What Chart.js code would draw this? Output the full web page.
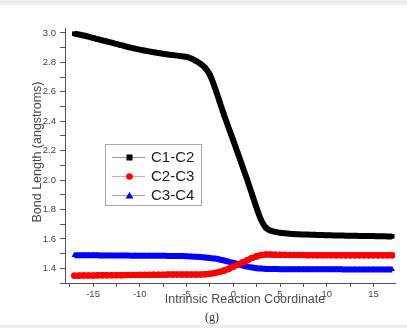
<!DOCTYPE html>
<html>
<head>
<meta charset="utf-8">
<script src="https://cdn.jsdelivr.net/npm/chart.js@4.4.1/dist/chart.umd.min.js"></script>
<style>
  html, body { margin: 0; padding: 0; background: #fff; }
  #wrap { width: 407px; height: 328px; position: relative; }
</style>
</head>
<body>
<div id="wrap"><canvas id="bondChart" width="407" height="328"></canvas></div>
<script>
// IRC coordinate (x) and bond lengths in angstroms
const irc = [
  -17, -16.5, -16, -15.5, -15, -14.5, -14, -13.5, -13, -12.5, -12, -11.5,
  -11, -10.5, -10, -9.5, -9, -8.5, -8, -7.5, -7, -6.5, -6, -5.5,
  -5, -4.5, -4, -3.5, -3, -2.5, -2, -1.5, -1, -0.5, 0, 0.5,
  1, 1.5, 2, 2.5, 3, 3.5, 4, 4.5, 5, 5.5, 6, 6.5,
  7, 7.5, 8, 8.5, 9, 9.5, 10, 10.5, 11, 11.5, 12, 12.5,
  13, 13.5, 14, 14.5, 15, 15.5, 16, 16.5, 17
];

const c1c2 = [
  2.995, 2.990, 2.983, 2.975, 2.967, 2.958, 2.950, 2.942, 2.934, 2.926, 2.917, 2.909,
  2.901, 2.894, 2.887, 2.881, 2.875, 2.869, 2.864, 2.859, 2.854, 2.850, 2.846, 2.842,
  2.838, 2.826, 2.810, 2.790, 2.762, 2.715, 2.635, 2.540, 2.445, 2.355, 2.270, 2.180,
  2.090, 2.000, 1.905, 1.810, 1.725, 1.675, 1.656, 1.648, 1.642, 1.638, 1.635, 1.633,
  1.631, 1.630, 1.629, 1.628, 1.627, 1.626, 1.625, 1.624, 1.623, 1.623, 1.622, 1.621,
  1.621, 1.620, 1.620, 1.619, 1.619, 1.618, 1.618, 1.617, 1.617
];

const c2c3 = [
  1.350, 1.350, 1.351, 1.351, 1.351, 1.352, 1.352, 1.352, 1.353, 1.353, 1.353, 1.354,
  1.354, 1.354, 1.355, 1.355, 1.355, 1.356, 1.356, 1.356, 1.357, 1.357, 1.357, 1.357,
  1.357, 1.357, 1.357, 1.358, 1.360, 1.363, 1.368, 1.375, 1.384, 1.396, 1.410, 1.425,
  1.440, 1.455, 1.470, 1.481, 1.490, 1.494, 1.493, 1.492, 1.491, 1.491, 1.490, 1.490,
  1.490, 1.490, 1.489, 1.489, 1.489, 1.489, 1.489, 1.489, 1.488, 1.488, 1.488, 1.488,
  1.488, 1.488, 1.488, 1.488, 1.488, 1.488, 1.488, 1.488, 1.488
];

const c3c4 = [
  1.488, 1.488, 1.488, 1.488, 1.488, 1.488, 1.487, 1.487, 1.487, 1.487, 1.487, 1.487,
  1.486, 1.486, 1.486, 1.486, 1.486, 1.485, 1.485, 1.485, 1.484, 1.484, 1.483, 1.483,
  1.482, 1.480, 1.478, 1.476, 1.474, 1.470, 1.466, 1.460, 1.453, 1.445, 1.437, 1.428,
  1.419, 1.411, 1.405, 1.401, 1.398, 1.396, 1.395, 1.395, 1.394, 1.394, 1.394, 1.394,
  1.394, 1.393, 1.393, 1.393, 1.393, 1.393, 1.393, 1.393, 1.393, 1.393, 1.392, 1.392,
  1.392, 1.392, 1.392, 1.392, 1.392, 1.392, 1.392, 1.392, 1.392
];

const seriesNames = ["C1-C2", "C2-C3", "C3-C4"];
const xTicks = [-17.5, -15, -12.5, -10, -7.5, -5, -2.5, 0, 2.5, 5, 7.5, 10, 12.5, 15];
const yTicks = [1.3, 1.4, 1.5, 1.6, 1.7, 1.8, 1.9, 2.0, 2.1, 2.2, 2.3, 2.4, 2.5, 2.6, 2.7, 2.8, 2.9, 3.0];

const FONT = "'Liberation Sans', Arial, sans-serif";

function pts(ys) {
  return irc.map((x, i) => ({ x: x, y: ys[i] }));
}

function series(label, ys, color, style) {
  return {
    label: label,
    data: pts(ys),
    borderColor: color,
    backgroundColor: color,
    borderWidth: 6,
    pointStyle: style,
    pointRadius: 3.3,
    pointBorderWidth: 0,
    pointBackgroundColor: color,
    cubicInterpolationMode: "monotone"
  };
}

// page strips, axis titles, caption and the boxed legend
const decorations = {
  id: "decorations",
  beforeDraw(chart) {
    const ctx = chart.ctx;
    ctx.save();
    ctx.fillStyle = "#fff";
    ctx.fillRect(0, 0, 407, 328);
    ctx.fillStyle = "#eeeeee";
    ctx.fillRect(0, 0, 407, 5);
    ctx.fillRect(0, 325, 407, 3);
    ctx.restore();
  },
  afterDraw(chart) {
    const ctx = chart.ctx;
    ctx.save();

    ctx.fillStyle = "#4a4a4a";
    ctx.font = "12.5px " + FONT;
    ctx.textAlign = "center";
    ctx.textBaseline = "middle";
    ctx.fillText("Intrinsic Reaction Coordinate", 245, 300);

    ctx.save();
    ctx.translate(38, 152);
    ctx.rotate(-Math.PI / 2);
    ctx.fillText("Bond Length (angstroms)", 0, 0);
    ctx.restore();

    ctx.fillStyle = "#333";
    ctx.font = "12px 'Liberation Serif', 'Times New Roman', serif";
    ctx.fillText("(g)", 212, 318);

    // legend
    ctx.strokeStyle = "#a8a8a8";
    ctx.lineWidth = 1;
    ctx.strokeRect(105.5, 144.5, 96, 61);
    const lineCols = ["#9a9a9a", "#ff9a9a", "#9a9aff"];
    const rows = [157, 176, 195];
    chart.data.datasets.forEach((ds, i) => {
      const y = rows[i];
      ctx.strokeStyle = lineCols[i];
      ctx.beginPath();
      ctx.moveTo(112, y + 0.5);
      ctx.lineTo(145, y + 0.5);
      ctx.stroke();
      ctx.fillStyle = ds.borderColor;
      if (ds.pointStyle === "rect") {
        ctx.fillRect(126.5, y - 2.5, 6, 6);
      } else if (ds.pointStyle === "circle") {
        ctx.beginPath();
        ctx.arc(129.5, y + 0.5, 3.3, 0, Math.PI * 2);
        ctx.fill();
      } else {
        ctx.beginPath();
        ctx.moveTo(129.5, y - 3);
        ctx.lineTo(133.5, y + 3.5);
        ctx.lineTo(125.5, y + 3.5);
        ctx.closePath();
        ctx.fill();
      }
      ctx.fillStyle = "#222";
      ctx.font = "15px " + FONT;
      ctx.textAlign = "left";
      ctx.fillText(ds.label, 151, y + 1);
    });

    ctx.restore();
  }
};

new Chart(document.getElementById("bondChart"), {
  type: "line",
  data: {
    datasets: [
      series(seriesNames[0], c1c2, "#000000", "rect"),
      series(seriesNames[1], c2c3, "#ff0000", "circle"),
      series(seriesNames[2], c3c4, "#0000ff", "triangle")
    ]
  },
  options: {
    responsive: false,
    animation: false,
    layout: { padding: { top: 28, right: 12, left: 0, bottom: 0 } },
    plugins: {
      legend: { display: false },
      tooltip: { enabled: false }
    },
    scales: {
      x: {
        type: "linear",
        min: -18,
        max: 17.3,
        afterBuildTicks: axis => { axis.ticks = xTicks.map(v => ({ value: v })); },
        afterFit: axis => { axis.height = 45; },
        border: { display: true, color: "#555", width: 1 },
        grid: { drawOnChartArea: false, drawTicks: true, tickLength: 4, color: "#555" },
        ticks: {
          autoSkip: false,
          maxRotation: 0,
          padding: 2,
          color: "#444",
          font: { family: FONT, size: 9.5 },
          callback: v => (v % 5 === 0 ? String(v) : "")
        }
      },
      y: {
        type: "linear",
        min: 1.3,
        max: 3.034,
        afterBuildTicks: axis => { axis.ticks = yTicks.map(v => ({ value: v })); },
        afterFit: axis => { axis.width = 65; },
        border: { display: true, color: "#555", width: 1 },
        grid: { drawOnChartArea: false, drawTicks: true, tickLength: 5, color: "#555" },
        ticks: {
          autoSkip: false,
          padding: 4,
          color: "#444",
          font: { family: FONT, size: 9.5 },
          callback: v => {
            const t = Math.round(v * 10);
            return (t % 2 === 0 && t >= 14) ? (t / 10).toFixed(1) : "";
          }
        }
      }
    }
  },
  plugins: [decorations]
});
</script>
</body>
</html>
